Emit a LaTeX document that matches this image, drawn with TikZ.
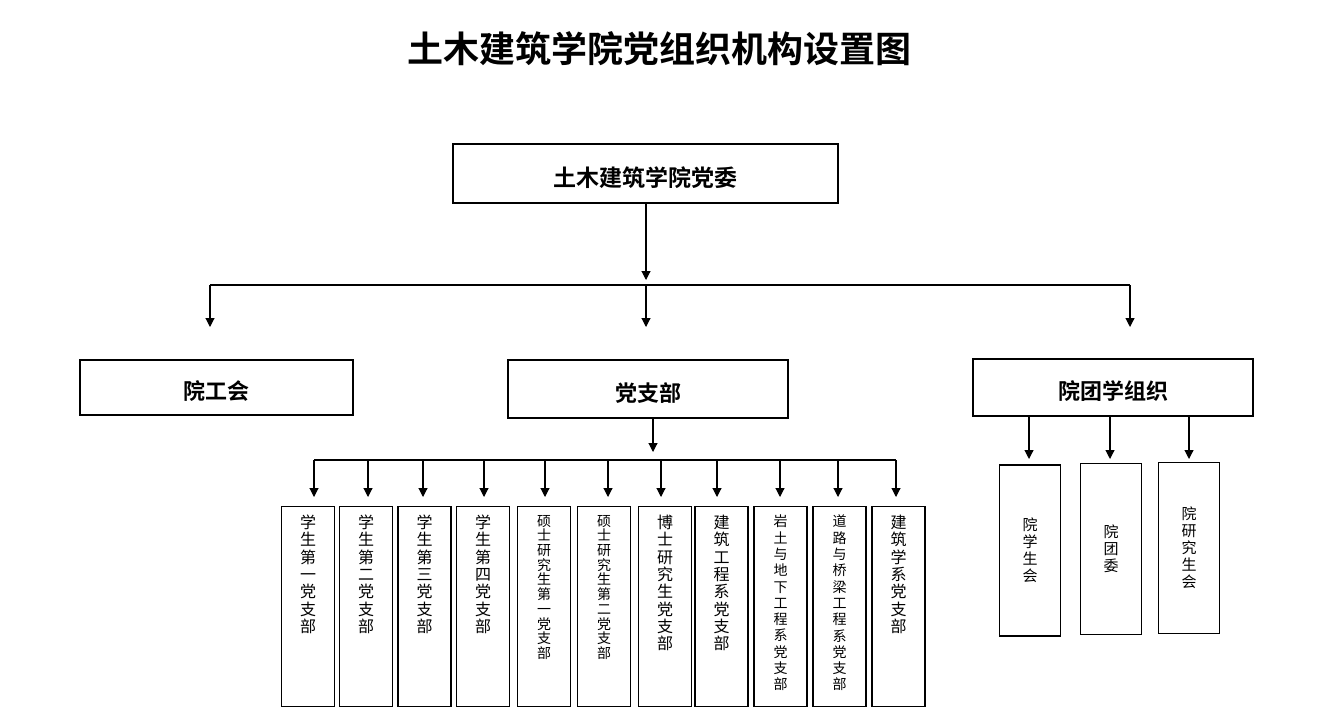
\documentclass[tikz,border=0pt]{standalone}
\usepackage{fontspec}
\setmainfont{Noto Sans CJK SC}[BoldFont={Noto Sans CJK SC Bold}]
\usetikzlibrary{arrows.meta}

\newcommand\vbig{\fontsize{16}{17.3}\selectfont}
\newcommand\vmid{\fontsize{14}{16.3}\selectfont}
\newcommand\vsmall{\fontsize{14}{14.7}\selectfont}
\newcommand\vright{\fontsize{15}{17}\selectfont}

\tikzset{
  box/.style={draw, line width=1.2pt, inner sep=0pt},
  headbox/.style={box, font=\bfseries\fontsize{22}{26}\selectfont, text height=27pt, text depth=3pt},
  vtext/.style={anchor=north, inner sep=0pt, align=center, yshift=-9pt},
  arr/.style={line width=1.1pt, -{Triangle[width=9pt,length=9pt]}},
  bus/.style={line width=1.1pt},
}

\begin{document}
\begin{tikzpicture}[x=1pt,y=-1pt]
      \useasboundingbox (0,0) rectangle (1327,723);
      \node[font=\bfseries\fontsize{36}{40}\selectfont] (title) at (659,49) {土木建筑学院党组织机构设置图};

      \node[headbox, minimum width=385pt, minimum height=59pt, font=\bfseries\fontsize{23}{26}\selectfont, text height=29pt] (dangwei) at (645.5,173.5) {土木建筑学院党委};
      \node[headbox, minimum width=273pt, minimum height=55pt] (gonghui) at (216.5,387.5) {院工会};
      \node[headbox, minimum width=280pt, minimum height=58pt] (zhibu) at (648,389) {党支部};
      \node[headbox, minimum width=280pt, minimum height=57pt] (tuanxue) at (1113,387.5) {院团学组织};

      % first level
      \coordinate (t0) at (646,280);
      \draw[arr] (t0 |- dangwei.south) -- (t0);
      \coordinate (bus1l) at (210,285);
      \coordinate (bus1r) at (1130,285);
      \draw[bus] (bus1l) -- (bus1r);
      \foreach \x/\n in {210/gonghui,646/zhibu,1130/tuanxue} {
        \coordinate (h\n) at (\x,327);
        \draw[arr] (h\n |- bus1l) -- (h\n);
      }

      % party branches
      \coordinate (t1) at (653,452);
      \draw[arr] (t1 |- zhibu.south) -- (t1);
      \coordinate (bus2l) at (314,460);
      \coordinate (bus2r) at (896,460);
      \draw[bus] (bus2l) -- (bus2r);
      \foreach \ax/\bx/\txt/\fs [count=\i] in {
          314/308/{学\\生\\第\\一\\党\\支\\部}/\vbig,
          368/366/{学\\生\\第\\二\\党\\支\\部}/\vbig,
          423/424.5/{学\\生\\第\\三\\党\\支\\部}/\vbig,
          484/483/{学\\生\\第\\四\\党\\支\\部}/\vbig,
          545/544/{硕\\士\\研\\究\\生\\第\\一\\党\\支\\部}/\vsmall,
          608/604/{硕\\士\\研\\究\\生\\第\\二\\党\\支\\部}/\vsmall,
          661/665/{博\\士\\研\\究\\生\\党\\支\\部}/\vbig,
          717/721.5/{建\\筑\\工\\程\\系\\党\\支\\部}/\vbig,
          780/780.5/{岩\\土\\与\\地\\下\\工\\程\\系\\党\\支\\部}/\vmid,
          838/839.5/{道\\路\\与\\桥\\梁\\工\\程\\系\\党\\支\\部}/\vmid,
          896/898.5/{建\\筑\\学\\系\\党\\支\\部}/\vbig} {
        \node[box, minimum width=53pt, minimum height=200pt,
              label={[vtext, font=\fs]north:\txt}] (zb\i) at (\bx,606.5) {};
        \coordinate (a\i) at (\ax,497);
        \draw[arr] (a\i |- bus2l) -- (a\i);
      }

      % student organisations
      \foreach \ax/\bx/\by/\txt [count=\i] in {
          1029/1030/550.5/{院\\学\\生\\会},
          1110/1111/549/{院\\团\\委},
          1189/1189/547.7/{院\\研\\究\\生\\会}} {
        \node[box, minimum width=61pt, minimum height=171pt, font=\vright, align=center] (xs\i) at (\bx,\by) {\txt};
        \coordinate (c\i) at (\ax,459);
        \draw[arr] (c\i |- tuanxue.south) -- (c\i);
      }
\end{tikzpicture}
\end{document}
